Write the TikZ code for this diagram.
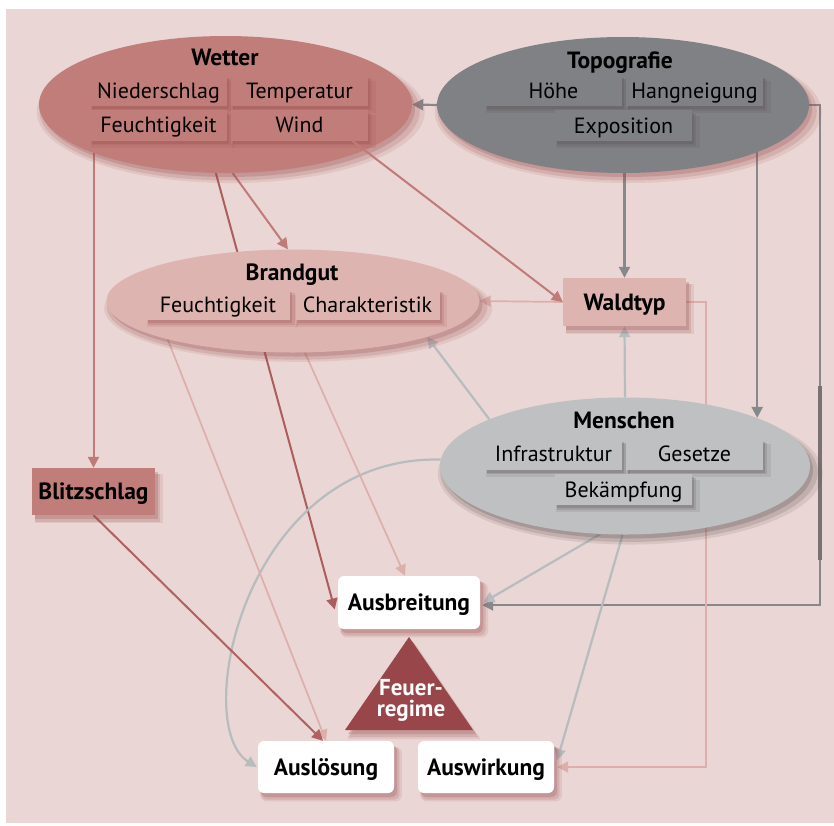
\documentclass[tikz,border=0pt]{standalone}
\usepackage{fontspec}
\setmainfont{PT Sans}
\usetikzlibrary{arrows.meta,shapes.geometric,shadows,calc}
\pgfdeclarelayer{back}
\pgfdeclarelayer{edges}
\pgfsetlayers{back,edges,main}
\definecolor{bgc}{HTML}{EAD6D4}
\definecolor{wetc}{HTML}{C17D79}
\definecolor{topc}{HTML}{7F8185}
\definecolor{brac}{HTML}{DEB4B0}
\definecolor{menc}{HTML}{BEC0C2}
\definecolor{tric}{HTML}{98464A}
\definecolor{shc}{HTML}{9A4E4E}
\definecolor{shg}{HTML}{5A4E50}
\definecolor{lwet}{HTML}{C07A77}
\definecolor{lwetd}{HTML}{AC5E5D}
\definecolor{lbra}{HTML}{DDAFAB}
\definecolor{ltop}{HTML}{86888C}
\definecolor{ltopd}{HTML}{7A7272}
\definecolor{lmen}{HTML}{B7BCBF}
\begin{document}
\begin{tikzpicture}[x=1pt,y=-1pt,
  softsh/.style={
    general shadow={shadow xshift=5pt,shadow yshift=-7pt,shadow scale=1.04,fill=#1,opacity=0.12},
    general shadow={shadow xshift=4pt,shadow yshift=-6pt,shadow scale=1.02,fill=#1,opacity=0.18},
    general shadow={shadow xshift=3pt,shadow yshift=-4pt,fill=#1,opacity=0.25}},
  subsh/.style={
    general shadow={shadow xshift=4pt,shadow yshift=-6pt,shadow scale=1.05,fill=#1,opacity=0.12},
    general shadow={shadow xshift=3pt,shadow yshift=-4.5pt,shadow scale=1.02,fill=#1,opacity=0.18},
    general shadow={shadow xshift=2pt,shadow yshift=-3pt,fill=#1,opacity=0.25}},
  fs/.style={font=\fontsize{22}{26}\selectfont},
  fsb/.style={font=\fontsize{23.5}{27}\selectfont\bfseries},
  ell/.style={ellipse, draw=none, inner sep=0pt},
  sub/.style={fs, rectangle, inner sep=0pt, minimum width=137pt, minimum height=31pt, text height=15pt, text depth=0pt},
  ttl/.style={fsb, inner sep=0pt, text height=16pt, text depth=0pt},
  sq/.style={fsb, rectangle, inner sep=0pt, minimum width=123pt, minimum height=47pt, text height=16pt, text depth=0pt},
  wbox/.style={fsb, fill=white, rounded corners=6pt, inner sep=0pt, minimum width=136pt, minimum height=52pt, text height=16pt, text depth=0pt, softsh=shc},
  tip/.style={-{Triangle[length=11pt,width=11pt]}},
  lw/.style={tip, draw=lwet, line width=2pt},
  lwd/.style={tip, draw=lwetd, line width=2pt},
  lb/.style={tip, draw=lbra, line width=1.7pt},
  lt/.style={tip, draw=ltop, line width=2.2pt},
  lm/.style={tip, draw=lmen, line width=2.2pt}
]
\useasboundingbox (0,0) rectangle (834,825);
\begin{pgfonlayer}{back}
\fill[bgc] (6,9) rectangle (834,823);
\end{pgfonlayer}

% Wetter
\node[ell, fill=wetc, minimum width=373pt, minimum height=137pt, softsh=shc] (wetter) at (225.5,104.5) {};
\node[ttl] (wetterT) at (225,57) {Wetter};
\node[sub, fill=wetc, subsh=shc] (nieder) at (158.5,90.5) {Niederschlag};
\node[sub, fill=wetc, subsh=shc] (temp) at (299.5,90.5) {Temperatur};
\node[sub, fill=wetc, subsh=shc] (wfeucht) at (158.5,125) {Feuchtigkeit};
\node[sub, fill=wetc, subsh=shc] (wind) at (299.5,125) {Wind};

% Topografie
\node[ell, fill=topc, minimum width=372pt, minimum height=136pt, softsh=shc] (topo) at (623,105) {};
\node[ttl] (topoT) at (620,60) {Topografie};
\node[sub, fill=topc, subsh=shg] (hoehe) at (553.5,90.5) {Höhe};
\node[sub, fill=topc, subsh=shg] (hang) at (694.5,90.5) {Hangneigung};
\node[sub, fill=topc, subsh=shg] (expo) at (623.5,125.5) {Exposition};

% Brandgut
\node[ell, fill=brac, minimum width=373pt, minimum height=103pt, softsh=shc] (brand) at (293,301) {};
\node[ttl] (brandT) at (292,272) {Brandgut};
\node[sub, fill=brac, subsh=shc, minimum width=144pt] (bfeucht) at (218,304.5) {Feuchtigkeit};
\node[sub, fill=brac, subsh=shc, minimum width=144pt] (charak) at (367.5,304.5) {Charakteristik};

% Menschen
\node[ell, fill=menc, minimum width=370pt, minimum height=137pt, softsh=shg] (mensch) at (625,466) {};
\node[ttl] (menschT) at (624,420) {Menschen};
\node[sub, fill=menc, subsh=shg] (infra) at (553.5,454) {Infrastruktur};
\node[sub, fill=menc, subsh=shg] (gesetz) at (694.5,454) {Gesetze};
\node[sub, fill=menc, subsh=shg] (bekampf) at (623.5,489.5) {Bekämpfung};

% boxes
\node[sq, fill=wetc, softsh=shc] (blitz) at (93.5,491.5) {Blitzschlag};
\node[sq, fill=brac, minimum height=48pt, softsh=shc] (wald) at (624.5,302) {Waldtyp};
\node[wbox, minimum width=142pt, minimum height=53pt] (ausb) at (409,602.5) {Ausbreitung};
\node[wbox] (ausl) at (326,767) {Auslösung};
\node[wbox] (ausw) at (486,767) {Auswirkung};

% Feuerregime triangle
\fill[tric, softsh=shc] (409,637) -- (473,730) -- (345,730) -- cycle;
\node[text=white, align=center, inner sep=0pt, font=\fontsize{23}{21}\selectfont\bfseries] (feuer) at (411,700) {Feuer-\\regime};

% connector over Wetter ellipse
\draw[lw] ([xshift=-16pt]wind.south east) -- (wald.west);

\coordinate (rt) at ($(topo.east)+(11,0)$);
\coordinate (wr) at ($(wald.east)+(20,0)$);

\begin{pgfonlayer}{edges}
\draw[lt] (topo.west) -- (wetter.east);
\draw[lw] (blitz.north |- wetter.center) -- (blitz.north);
\draw[lwd] (wetter.-98) -- ([xshift=-3pt,yshift=-7pt]ausb.west);
\draw[lw] (wetter.-84) -- ([xshift=-5pt]brand.north);
\draw[lt] (wald.north |- topo.south) -- (wald.north);
\draw[lt] (mensch.20 |- topo.center) -- (mensch.20);
\draw[lt] (topo.east) -- (rt) |- ([yshift=-2.5pt,xshift=2pt]ausb.east);
\draw[ltopd, line width=4pt] ($(rt)+(0,281)$) -- ($(rt)+(0,455)$);
\draw[lb] (wald.west) -- (brand.east);
\draw[lb] (wald.east) -- (wr) |- ([xshift=3pt]ausw.east);
\draw[lm] (mensch.north) -- (wald.south);
\draw[lm] (mensch.161) -- (brand.-15);
\draw[lm] (mensch.178) .. controls (245,455) and (190,725) .. ([xshift=-1pt]ausl.west);
\draw[lm] (mensch.-110) -- ([xshift=3pt]ausb.east);
\draw[lm] (mensch.-92) -- ([xshift=3pt,yshift=7pt]ausw.east);
\draw[lb] (brand.-163) -- (ausl.north);
\draw[lb] (brand.-77) -- ([xshift=-4pt]ausb.north);
\draw[lw, draw=lwetd!85!lwet] (blitz.south) -- ([xshift=-3pt]ausl.north);
\end{pgfonlayer}
\end{tikzpicture}
\end{document}
